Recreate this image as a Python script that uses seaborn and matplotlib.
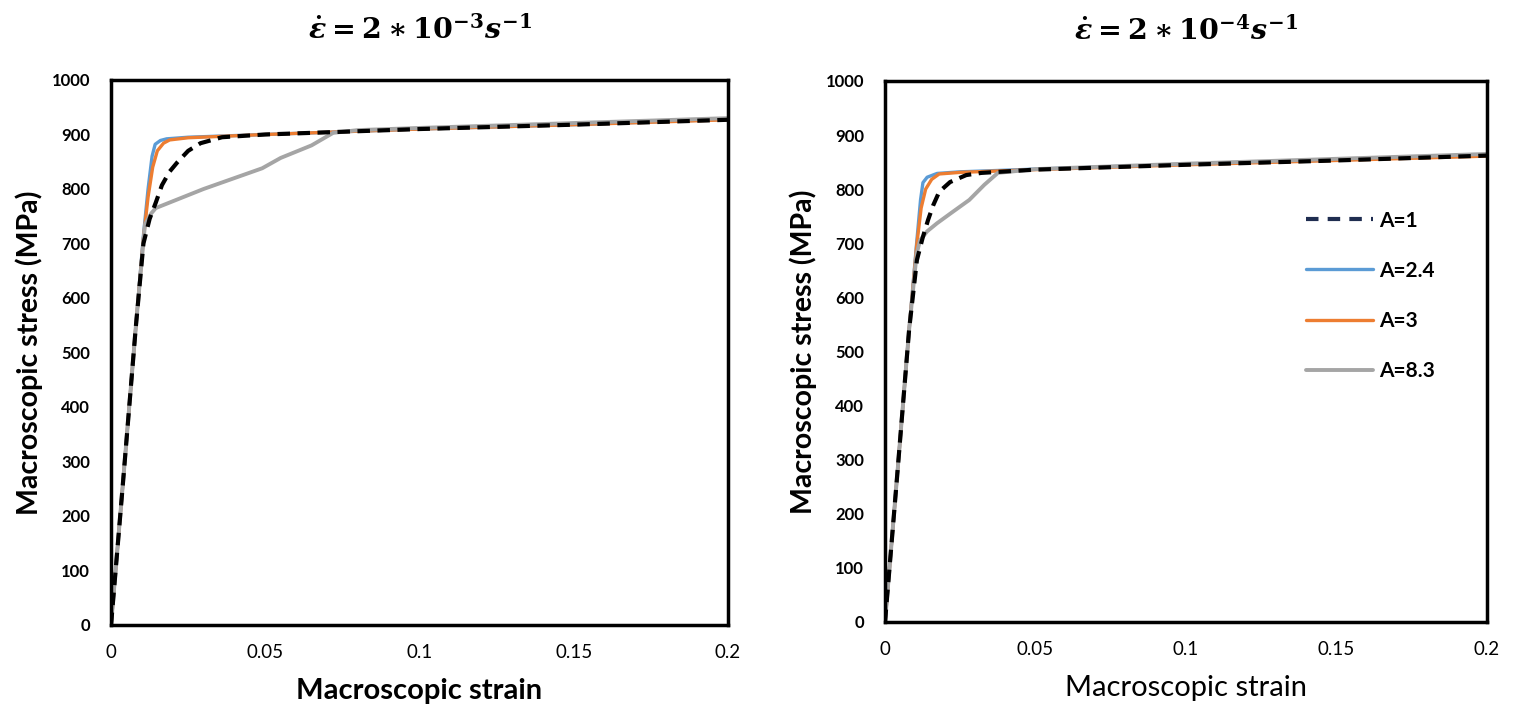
import numpy as np
import pandas as pd
import matplotlib
matplotlib.use("Agg")
import matplotlib.pyplot as plt
import seaborn as sns
from matplotlib.lines import Line2D

# ---------------- data ----------------
labels = ["A=1", "A=2.4", "A=3", "A=8.3"]

# left panel: strain rate 2e-3
L_a1_x = [0, 0.004, 0.008, 0.0105, 0.0125, 0.0145, 0.0165, 0.019, 0.0215, 0.025, 0.029, 0.036, 0.05, 0.075, 0.1, 0.15, 0.2]
L_a1_y = [0, 270, 545, 700, 745, 775, 807, 832, 849, 870, 884, 895, 900, 905, 910, 918, 927]
L_a24_x = [0, 0.004, 0.008, 0.0105, 0.012, 0.0133, 0.0143, 0.016, 0.018, 0.025, 0.05, 0.075, 0.1, 0.15, 0.2]
L_a24_y = [0, 270, 545, 715, 800, 860, 882, 889, 892, 895, 900, 905, 910, 918, 928]
L_a3_x = [0, 0.004, 0.008, 0.0105, 0.012, 0.0135, 0.015, 0.017, 0.019, 0.025, 0.05, 0.075, 0.1, 0.15, 0.2]
L_a3_y = [0, 270, 545, 710, 785, 840, 870, 884, 890, 894, 900, 905, 910, 918, 927]
L_a83_x = [0, 0.004, 0.008, 0.011, 0.013, 0.0145, 0.03, 0.049, 0.055, 0.065, 0.072, 0.08, 0.1, 0.15, 0.2]
L_a83_y = [0, 270, 545, 735, 755, 765, 800, 838, 857, 880, 903, 908, 912, 921, 930]

# right panel: strain rate 2e-4
R_a1_x = [0, 0.004, 0.008, 0.0106, 0.0125, 0.0143, 0.016, 0.018, 0.0216, 0.027, 0.032, 0.038, 0.05, 0.1, 0.15, 0.2]
R_a1_y = [0, 268, 540, 669, 710, 743, 770, 795, 813, 826, 830, 832, 836, 845, 853, 862]
R_a24_x = [0, 0.004, 0.008, 0.0105, 0.0118, 0.0126, 0.014, 0.0173, 0.025, 0.04, 0.05, 0.1, 0.15, 0.2]
R_a24_y = [0, 268, 540, 700, 780, 812, 822, 829, 832, 835, 837, 846, 854, 862]
R_a3_x = [0, 0.004, 0.008, 0.0105, 0.012, 0.0135, 0.0155, 0.018, 0.025, 0.04, 0.05, 0.1, 0.15, 0.2]
R_a3_y = [0, 268, 540, 695, 765, 800, 818, 828, 831, 834, 836, 845, 853, 861]
R_a83_x = [0, 0.004, 0.008, 0.0105, 0.0116, 0.014, 0.0173, 0.022, 0.028, 0.033, 0.0375, 0.05, 0.1, 0.15, 0.2]
R_a83_y = [0, 268, 540, 680, 705, 722, 737, 756, 780, 808, 830, 837, 847, 856, 865]

x_ticks = [0, 0.05, 0.1, 0.15, 0.2]
x_tick_labels = ["0", "0.05", "0.1", "0.15", "0.2"]
y_ticks = list(range(0, 1001, 100))

titles = [r"$\dot{\varepsilon} = 2 \ast 10^{-3} s^{-1}$",
          r"$\dot{\varepsilon} = 2 \ast 10^{-4} s^{-1}$"]

# ---------------- style ----------------
sns.set_theme(style="white")
plt.rcParams["font.family"] = ["Lato", "DejaVu Sans"]
plt.rcParams["text.color"] = "black"
plt.rcParams["axes.labelcolor"] = "black"
plt.rcParams["xtick.color"] = "black"
plt.rcParams["ytick.color"] = "black"
plt.rcParams["mathtext.fontset"] = "custom"
plt.rcParams["mathtext.rm"] = "DejaVu Serif:bold"
plt.rcParams["mathtext.it"] = "DejaVu Serif:italic:bold"
plt.rcParams["mathtext.bf"] = "DejaVu Serif:bold"

colors = {"A=1": "#000000", "A=2.4": "#5b9bd5", "A=3": "#ed7d31", "A=8.3": "#a5a5a5"}
widths = {"A=1": 3.0, "A=2.4": 2.4, "A=3": 2.4, "A=8.3": 2.8}

fig = plt.figure(figsize=(15.17, 7.11), dpi=100)
axL = fig.add_axes([0.0732, 0.121, 0.4067, 0.7665])
axR = fig.add_axes([0.5834, 0.1252, 0.3968, 0.761])

panels = [
    (axL, {"A=1": (L_a1_x, L_a1_y), "A=2.4": (L_a24_x, L_a24_y),
           "A=3": (L_a3_x, L_a3_y), "A=8.3": (L_a83_x, L_a83_y)}, titles[0], "bold"),
    (axR, {"A=1": (R_a1_x, R_a1_y), "A=2.4": (R_a24_x, R_a24_y),
           "A=3": (R_a3_x, R_a3_y), "A=8.3": (R_a83_x, R_a83_y)}, titles[1], "normal"),
]

order = ["A=2.4", "A=3", "A=8.3", "A=1"]
for ax, series, title, xlw in panels:
    for lab in order:
        xs, ys = series[lab]
        df = pd.DataFrame({"strain": xs, "stress": ys})
        sns.lineplot(data=df, x="strain", y="stress", ax=ax, color=colors[lab],
                     linewidth=widths[lab], sort=False, estimator=None, legend=False)
        if lab == "A=1":
            ax.lines[-1].set_dashes((3.0, 1.8))
            ax.lines[-1].set_dash_capstyle("butt")
    ax.set_xlim(0, 0.2)
    ax.set_ylim(0, 1000)
    ax.set_xticks(x_ticks)
    ax.set_xticklabels(x_tick_labels, fontsize=13.5)
    ax.set_yticks(y_ticks)
    ax.set_yticklabels([str(v) for v in y_ticks], fontsize=12, fontweight="bold")
    ax.tick_params(axis="both", length=0)
    ax.tick_params(axis="x", pad=14)
    ax.tick_params(axis="y", pad=15)
    ax.set_xlabel("Macroscopic strain", fontsize=21, fontweight=xlw, labelpad=12)
    ax.set_ylabel("Macroscopic stress (MPa)", fontsize=20.5, fontweight="bold", labelpad=6)
    ax.set_title(title, fontsize=20.5, pad=30)
    for sp in ax.spines.values():
        sp.set_visible(True)
        sp.set_color("black")
        sp.set_linewidth(2.5)
    ax.grid(False)

handles = [
    Line2D([], [], color="#1f2d50", linewidth=3.0, dashes=(3.0, 2.2)),
    Line2D([], [], color=colors["A=2.4"], linewidth=2.4),
    Line2D([], [], color=colors["A=3"], linewidth=2.4),
    Line2D([], [], color=colors["A=8.3"], linewidth=2.8),
]
axR.legend(handles, labels, loc="upper left", bbox_to_anchor=(0.668, 0.795),
           frameon=False, prop={"weight": "bold", "size": 15},
           handlelength=3.2, labelspacing=1.45, handletextpad=0.3)

fig.savefig("out.png", dpi=100)
